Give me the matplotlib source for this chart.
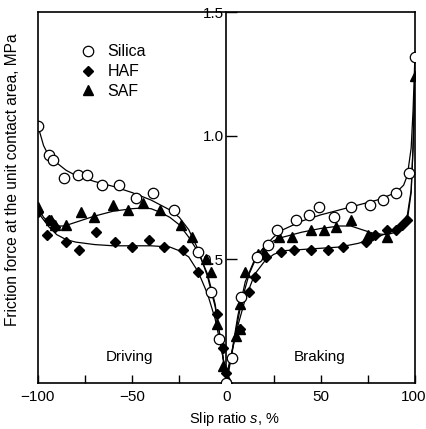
import matplotlib
matplotlib.use("Agg")
import matplotlib.pyplot as plt
from matplotlib.transforms import ScaledTranslation

plt.rcParams['font.family'] = ['Liberation Sans', 'DejaVu Sans']
plt.rcParams['mathtext.fontset'] = 'custom'
plt.rcParams['mathtext.rm'] = 'Liberation Sans'
plt.rcParams['mathtext.it'] = 'Liberation Sans:italic'

# measured points (slip ratio %, friction force MPa)
silica_x = [-100, -94, -92, -86, -79, -74, -66, -57, -48, -39, -28, -15, -8, -4, 0,
            3, 8, 16, 22, 27, 37, 44, 49, 57, 66, 76, 83, 90, 97, 100]
silica_y = [1.04, 0.92, 0.90, 0.83, 0.84, 0.84, 0.80, 0.80, 0.75, 0.77, 0.70, 0.53, 0.37, 0.18, 0.00,
            0.10, 0.35, 0.51, 0.56, 0.62, 0.66, 0.68, 0.71, 0.67, 0.71, 0.72, 0.74, 0.77, 0.85, 1.32]

haf_x = [-100, -94, -95, -91, -85, -78, -69, -59, -50, -41, -33, -23, -15, -5, -2, 0,
         7, 12, 15, 21, 29, 36, 45, 54, 62, 74, 76, 79, 85, 90, 93, 96]
haf_y = [0.69, 0.66, 0.60, 0.63, 0.57, 0.54, 0.61, 0.57, 0.55, 0.58, 0.55, 0.54, 0.45, 0.28, 0.14, 0.04,
         0.22, 0.37, 0.43, 0.51, 0.53, 0.54, 0.54, 0.54, 0.55, 0.57, 0.59, 0.60, 0.62, 0.62, 0.64, 0.66]

saf_x = [-100, -93, -91, -85, -77, -70, -60, -52, -44, -35, -24, -18, -11, -8, -5, -2, 1,
         5, 7, 7, 10, 17, 20, 28, 35, 45, 52, 58, 66, 75, 85, 100]
saf_y = [0.71, 0.66, 0.64, 0.64, 0.69, 0.67, 0.72, 0.70, 0.73, 0.70, 0.64, 0.59, 0.50, 0.45, 0.24, 0.07, 0.01,
         0.19, 0.22, 0.32, 0.45, 0.52, 0.53, 0.59, 0.59, 0.62, 0.62, 0.63, 0.66, 0.60, 0.59, 1.24]

# fitted curves
silica_cx = [-100, -97, -95, -90, -85, -80, -70, -60, -50, -40, -30, -25, -20, -15, -10, -6, -3, 0,
             2, 5, 8, 12, 16, 20, 25, 30, 40, 50, 60, 70, 80, 90, 94, 96, 98, 99, 100]
silica_cy = [1.04, 0.96, 0.93, 0.89, 0.86, 0.84, 0.815, 0.795, 0.77, 0.74, 0.70, 0.67, 0.62, 0.54, 0.43, 0.31, 0.17, 0.00,
             0.08, 0.21, 0.33, 0.44, 0.51, 0.55, 0.59, 0.62, 0.655, 0.68, 0.70, 0.72, 0.74, 0.77, 0.80, 0.84, 0.95, 1.10, 1.32]

haf_cx = [-100, -97, -94, -90, -85, -80, -70, -60, -50, -40, -30, -25, -20, -15, -10, -6, -3, 0,
          3, 6, 10, 15, 20, 25, 30, 40, 50, 60, 70, 80, 88, 93, 96, 98, 99, 100]
haf_cy = [0.69, 0.66, 0.63, 0.60, 0.58, 0.57, 0.56, 0.555, 0.555, 0.555, 0.55, 0.535, 0.51, 0.45, 0.36, 0.26, 0.15, 0.03,
          0.13, 0.23, 0.34, 0.44, 0.49, 0.52, 0.535, 0.54, 0.545, 0.55, 0.565, 0.59, 0.615, 0.64, 0.68, 0.78, 0.95, 1.23]

saf_cx = [-100, -97, -94, -90, -86, -80, -70, -60, -50, -44, -40, -35, -30, -25, -20, -15, -10, -6, -3, 0,
          3, 6, 10, 15, 20, 25, 30, 40, 50, 60, 66, 72, 78, 85, 90, 94, 96, 98, 99, 100]
saf_cy = [0.71, 0.67, 0.65, 0.635, 0.635, 0.65, 0.675, 0.695, 0.705, 0.708, 0.705, 0.69, 0.67, 0.64, 0.59, 0.53, 0.44, 0.32, 0.17, 0.01,
          0.13, 0.27, 0.41, 0.50, 0.55, 0.575, 0.59, 0.61, 0.625, 0.635, 0.635, 0.62, 0.605, 0.60, 0.61, 0.63, 0.66, 0.77, 0.95, 1.24]

x_ticks = [-100, -75, -50, -25, 0, 25, 50, 75, 100]
x_tick_labels = ['\u2212100', '', '\u221250', '', '0', '', '50', '', '100']
y_ticks = [0.5, 1.0, 1.5]
y_tick_labels = ['0.5', '1.0', '1.5']

fig = plt.figure(figsize=(4.26, 4.29), dpi=100)
ax = fig.add_axes([0.089, 0.107, 0.885, 0.865])

lw_curve = 0.9
ax.plot(silica_cx, silica_cy, color='black', lw=lw_curve, zorder=2)
ax.plot(haf_cx, haf_cy, color='black', lw=lw_curve, zorder=2)
ax.plot(saf_cx, saf_cy, color='black', lw=lw_curve, zorder=2)

ax.plot(haf_x, haf_y, 'D', color='black', ms=5, ls='none', zorder=3, label='HAF')
ax.plot(saf_x, saf_y, '^', color='black', ms=7, ls='none', zorder=3, label='SAF')
ax.plot(silica_x, silica_y, 'o', mfc='white', mec='black', mew=0.9, ms=7.5, ls='none',
        zorder=4, label='Silica')

ax.set_xlim(-100, 100)
ax.set_ylim(0, 1.5)

# y axis sits on the centre line, left edge drawn separately
ax.spines['left'].set_position(('data', 0))
for sp in ax.spines.values():
    sp.set_linewidth(1.2)
ax.axvline(-100, color='black', lw=1.2, clip_on=False, zorder=5)

ax.set_yticks(y_ticks)
ax.set_yticklabels(y_tick_labels)
ax.set_xticks(x_ticks)
ax.set_xticklabels(x_tick_labels)
ax.tick_params(axis='y', direction='in', length=8, width=1.0, labelsize=11, pad=2)
ax.tick_params(axis='x', direction='in', length=6, width=1.0, labelsize=11, pad=5)
for t in ax.yaxis.get_ticklabels():
    t.set_zorder(1)
# the last label sits against the right edge of the picture
last = ax.get_xticklabels()[-1]
last.set_horizontalalignment('right')
last.set_transform(last.get_transform() + ScaledTranslation(0.115, 0, fig.dpi_scale_trans))

ax.set_ylabel('Friction force at the unit contact area, MPa', fontsize=11.2)
ax.yaxis.set_label_coords(-0.048, 0.547)
ax.set_xlabel('Slip ratio $s$, %', fontsize=10.5)
ax.xaxis.set_label_coords(0.52, -0.072)

ax.text(-51.5, 0.105, 'Driving', ha='center', va='center', fontsize=11)
ax.text(49.5, 0.105, 'Braking', ha='center', va='center', fontsize=11)

handles, labels = ax.get_legend_handles_labels()
order = [2, 0, 1]
ax.legend([handles[i] for i in order], [labels[i] for i in order],
          loc='upper left', bbox_to_anchor=(0.095, 0.93), frameon=False,
          fontsize=11.5, handlelength=1.0, handletextpad=0.7, labelspacing=0.3,
          borderaxespad=0)

fig.savefig('out.png', dpi=100)
